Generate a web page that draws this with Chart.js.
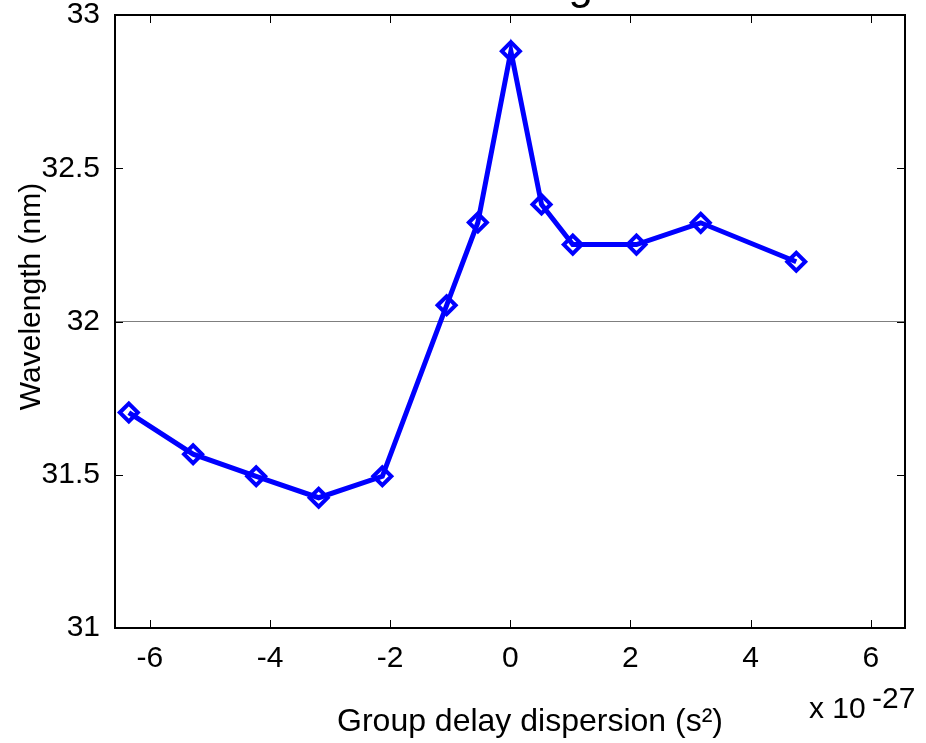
<!DOCTYPE html>
<html>
<head>
<meta charset="utf-8">
<script src="https://cdn.jsdelivr.net/npm/chart.js@4/dist/chart.umd.min.js"></script>
<style>
  html, body { margin: 0; padding: 0; background: #fff; }
  #wrap { width: 926px; height: 743px; position: relative; }
</style>
</head>
<body>
<div id="wrap"><canvas id="c" width="926" height="743"></canvas></div>
<script>
// Group delay dispersion (units of 1e-27 s^2) and measured wavelength (nm)
const gddValues = [-6.35, -5.28, -4.23, -3.19, -2.13, -1.06, -0.54, 0.01, 0.52, 1.04, 2.10, 3.17, 4.76];
const wavelengths = [31.703, 31.567, 31.495, 31.425, 31.495, 32.053, 32.323, 32.882, 32.382, 32.251, 32.251, 32.322, 32.195];

// Axis ticks
const xTicks = [-6, -4, -2, 0, 2, 4, 6];
const yTicks = [31, 31.5, 32, 32.5, 33];
const yTickLabels = ['31', '31.5', '32', '32.5', '33'];

const titleText = 'Tuning';
const xTitle = 'Group delay dispersion (s\u00B2)';
const yTitle = 'Wavelength (nm)';
const xExponentBase = 'x 10';
const xExponent = '-27';

const FONT = '"Liberation Sans", Arial, Helvetica, sans-serif';

// Frame, inward tick marks, axis titles and exponent label
const decorations = {
  id: 'decorations',
  afterDraw(chart) {
    const { ctx, chartArea: a, scales } = chart;
    const xs = scales.x, ys = scales.y;
    const TL = 8;
    ctx.save();
    ctx.strokeStyle = '#000';
    ctx.lineWidth = 1;
    ctx.beginPath();
    xTicks.forEach(v => {
      const px = Math.round(xs.getPixelForValue(v)) + 0.5;
      ctx.moveTo(px, a.bottom); ctx.lineTo(px, a.bottom - TL);
      ctx.moveTo(px, a.top); ctx.lineTo(px, a.top + TL);
    });
    yTicks.forEach(v => {
      const py = Math.round(ys.getPixelForValue(v)) + 0.5;
      ctx.moveTo(a.left, py); ctx.lineTo(a.left + TL, py);
      ctx.moveTo(a.right, py); ctx.lineTo(a.right - TL, py);
    });
    ctx.stroke();

    ctx.lineWidth = 2;
    ctx.strokeRect(a.left, a.top, a.right - a.left, a.bottom - a.top);

    ctx.fillStyle = '#000';
    // x axis title
    ctx.font = '32px ' + FONT;
    ctx.textAlign = 'center';
    ctx.textBaseline = 'alphabetic';
    ctx.fillText(xTitle, (a.left + a.right) / 2 + 20, a.bottom + 103);

    // exponent label under the right end of the x axis
    ctx.font = '30px ' + FONT;
    ctx.textAlign = 'left';
    ctx.fillText(xExponentBase, a.right - 96, a.bottom + 90);
    ctx.fillText(xExponent, a.right - 33, a.bottom + 80);

    // y axis title
    ctx.save();
    ctx.translate(a.left - 75, (a.top + a.bottom) / 2 - 25);
    ctx.rotate(-Math.PI / 2);
    ctx.textAlign = 'center';
    ctx.fillText(yTitle, 0, 0);
    ctx.restore();

    // chart title, mostly above the top edge
    ctx.font = '44px ' + FONT;
    ctx.textAlign = 'right';
    ctx.fillText(titleText, 593, -1);
    ctx.restore();
  }
};

new Chart(document.getElementById('c'), {
  type: 'scatter',
  data: {
    datasets: [{
      data: gddValues.map((x, i) => ({ x, y: wavelengths[i] })),
      showLine: true,
      borderColor: '#0000ff',
      borderWidth: 5,
      pointStyle: 'rectRot',
      pointRadius: 9,
      pointHoverRadius: 9,
      pointBorderWidth: 4,
      pointBorderColor: '#0000ff',
      pointBackgroundColor: 'rgba(0,0,0,0)',
      tension: 0
    }]
  },
  options: {
    responsive: false,
    animation: false,
    devicePixelRatio: 1,
    layout: { padding: { left: 0, right: 21, top: 15, bottom: 0 } },
    plugins: { legend: { display: false }, tooltip: { enabled: false }, title: { display: false } },
    scales: {
      x: {
        type: 'linear',
        min: -6.58,
        max: 6.57,
        border: { display: false },
        grid: { display: false, drawTicks: false },
        afterBuildTicks(scale) { scale.ticks = xTicks.map(v => ({ value: v })); },
        afterFit(scale) { scale.height = 115; scale.paddingLeft = 0; scale.paddingRight = 0; },
        ticks: {
          color: '#000',
          font: { family: FONT, size: 30 },
          padding: 13,
          maxRotation: 0,
          autoSkip: false,
          callback: v => String(v)
        }
      },
      y: {
        type: 'linear',
        min: 31,
        max: 33,
        border: { display: false },
        grid: {
          drawTicks: false,
          lineWidth: 1,
          color: ctx => (ctx.tick && ctx.tick.value === 32) ? '#7f7f7f' : 'rgba(0,0,0,0)'
        },
        afterBuildTicks(scale) { scale.ticks = yTicks.map(v => ({ value: v })); },
        afterFit(scale) { scale.width = 115; scale.paddingTop = 0; scale.paddingBottom = 0; },
        ticks: {
          color: '#000',
          font: { family: FONT, size: 30 },
          padding: 15,
          autoSkip: false,
          callback: v => yTickLabels[yTicks.indexOf(v)]
        }
      }
    }
  },
  plugins: [decorations]
});
</script>
</body>
</html>
